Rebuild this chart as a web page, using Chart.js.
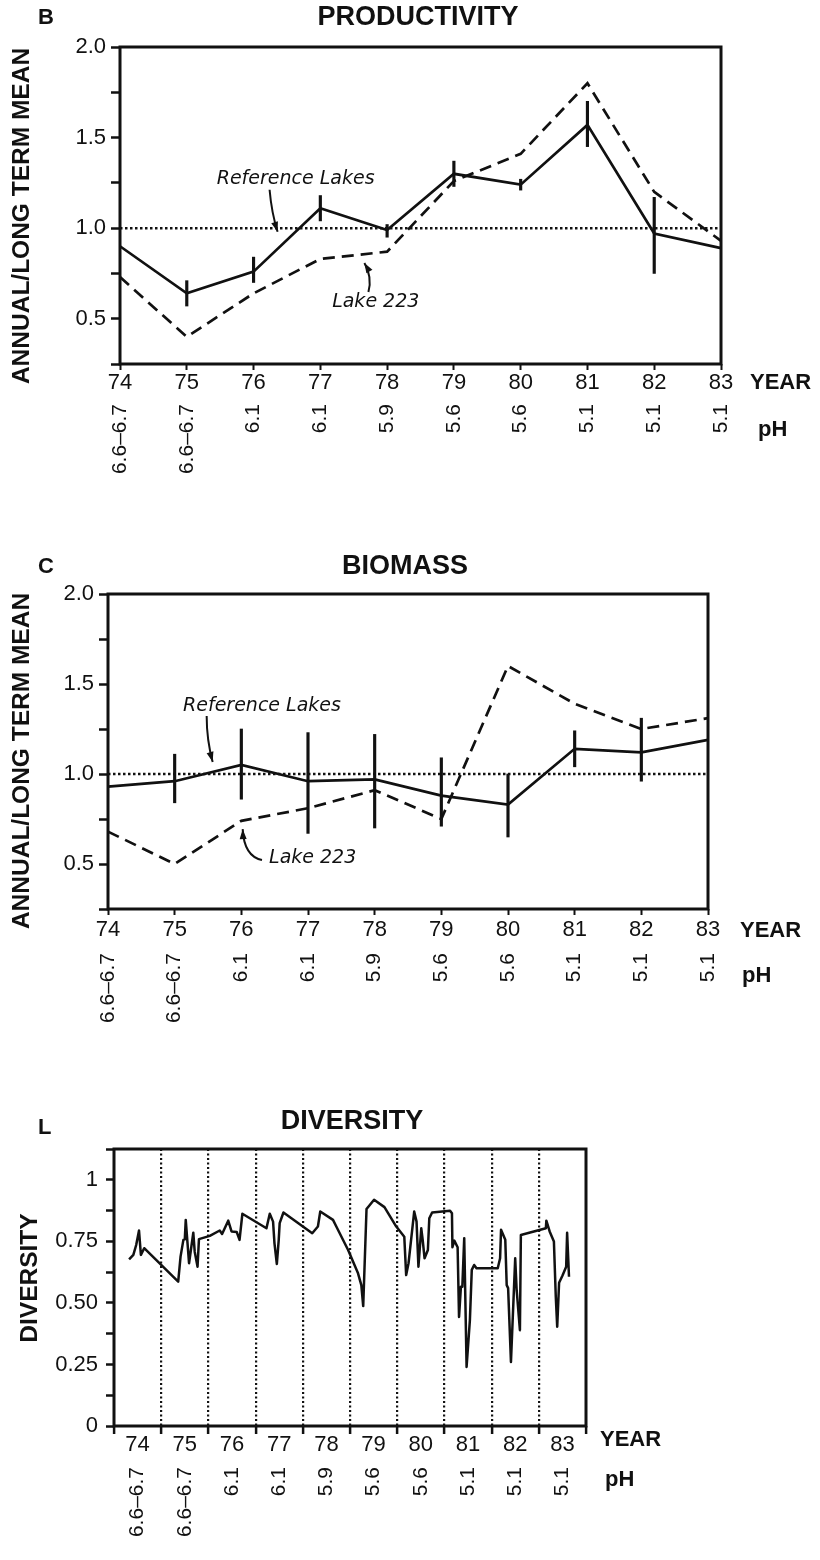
<!DOCTYPE html>
<html>
<head>
<meta charset="utf-8">
<title>Lake 223 – productivity, biomass, diversity</title>
<script src="https://cdn.jsdelivr.net/npm/chart.js@4.4.1/dist/chart.umd.min.js"></script>
<style>
  body { margin: 0; background: #fff; width: 820px; height: 1560px; position: relative; overflow: hidden; }
  canvas { position: absolute; left: 0; }
</style>
</head>
<body>
<canvas id="prodChart" width="820" height="500" style="top:0"></canvas>
<canvas id="bioChart" width="820" height="500" style="top:545px"></canvas>
<canvas id="divChart" width="820" height="475" style="top:1085px"></canvas>

<script>
// ---- data ----
const years = ['74', '75', '76', '77', '78', '79', '80', '81', '82', '83'];
const phLabels = ['6.6–6.7', '6.6–6.7', '6.1', '6.1', '5.9', '5.6', '5.6', '5.1', '5.1', '5.1'];
const longTermMean = 1.0;

// B - productivity
const prodReference = [0.90, 0.64, 0.76, 1.11, 0.99, 1.30, 1.24, 1.57, 0.97, 0.89];
const prodReferenceLow = [null, 0.57, 0.70, 1.04, 0.95, 1.23, 1.21, 1.45, 0.75, null];
const prodReferenceHigh = [null, 0.71, 0.84, 1.18, 1.02, 1.37, 1.27, 1.70, 1.17, null];
const prodLake223 = [0.73, 0.40, 0.64, 0.83, 0.87, 1.26, 1.41, 1.80, 1.20, 0.93];

// C - biomass
const bioReference = [0.93, 0.96, 1.05, 0.96, 0.97, 0.88, 0.83, 1.14, 1.12, 1.19];
const bioReferenceLow = [null, 0.84, 0.86, 0.67, 0.70, 0.71, 0.65, 1.04, 0.96, null];
const bioReferenceHigh = [null, 1.11, 1.25, 1.23, 1.22, 1.09, 1.00, 1.24, 1.31, null];
const bioLake223 = [0.68, 0.50, 0.74, 0.81, 0.91, 0.75, 1.60, 1.39, 1.25, 1.31];

// L - diversity (time as year, 74.5 = middle of 1974)
const divTime = [
  74.32, 74.41, 74.47, 74.53, 74.57, 74.64, 75.36, 75.41, 75.47, 75.50,
  75.52, 75.59, 75.68, 75.71, 75.77, 75.80, 76.03, 76.24, 76.29, 76.42,
  76.49, 76.60, 76.66, 76.72, 77.23, 77.30, 77.37, 77.40, 77.45, 77.49,
  77.51, 77.59, 78.20, 78.32, 78.37, 78.64, 78.71, 78.96, 79.17, 79.24,
  79.28, 79.35, 79.51, 79.73, 79.98, 80.15, 80.19, 80.24, 80.36, 80.41,
  80.45, 80.51, 80.54, 80.58, 80.65, 80.68, 80.74, 81.12, 81.16, 81.17,
  81.21, 81.28, 81.31, 81.35, 81.38, 81.42, 81.47, 81.54, 81.58, 81.63,
  81.68, 82.13, 82.18, 82.20, 82.29, 82.32, 82.35, 82.41, 82.50, 82.53,
  82.60, 82.62, 83.15, 83.16, 83.23, 83.32, 83.36, 83.39, 83.43, 83.50,
  83.58, 83.60, 83.64
];
const divValue = [
  0.677, 0.695, 0.735, 0.794, 0.695, 0.722, 0.586, 0.688, 0.756, 0.758,
  0.837, 0.661, 0.785, 0.708, 0.647, 0.759, 0.772, 0.794, 0.780, 0.834,
  0.790, 0.788, 0.756, 0.862, 0.803, 0.862, 0.830, 0.742, 0.658, 0.756,
  0.824, 0.867, 0.783, 0.810, 0.871, 0.837, 0.810, 0.715, 0.620, 0.572,
  0.487, 0.881, 0.919, 0.889, 0.810, 0.769, 0.613, 0.661, 0.871, 0.830,
  0.647, 0.803, 0.756, 0.681, 0.715, 0.844, 0.867, 0.874, 0.864, 0.726,
  0.753, 0.726, 0.443, 0.566, 0.566, 0.763, 0.240, 0.430, 0.634, 0.654,
  0.641, 0.641, 0.681, 0.797, 0.756, 0.572, 0.560, 0.260, 0.681, 0.555,
  0.389, 0.776, 0.803, 0.834, 0.790, 0.749, 0.525, 0.403, 0.582, 0.610,
  0.647, 0.785, 0.606
];
const divTickText = { 0: '0', 0.25: '0.25', 0.5: '0.50', 0.75: '0.75', 1: '1' };

// ---- styling ----
const black = '#111';
const sans = '"Liberation Sans", Arial, Helvetica, sans-serif';
const hand = '"DejaVu Sans", sans-serif';

// draws the frame, panel letter, titles and the hand lettered notes
const decor = {
  id: 'decor',
  afterDraw(chart, args, o) {
    const { ctx, chartArea: a, scales } = chart;
    const px = p => [scales.x.getPixelForValue(p[0]), scales.y.getPixelForValue(p[1])];
    ctx.save();
    ctx.strokeStyle = black;
    ctx.lineWidth = 3;
    ctx.strokeRect(a.left, a.top, a.right - a.left, a.bottom - a.top);

    ctx.fillStyle = black;
    ctx.textBaseline = 'middle';
    ctx.textAlign = 'left';
    ctx.font = 'bold 22px ' + sans;
    ctx.fillText(o.letter, o.letterPos[0], o.letterPos[1]);

    ctx.textAlign = 'center';
    ctx.font = 'bold 27px ' + sans;
    ctx.fillText(o.title, o.titlePos[0], o.titlePos[1]);

    ctx.save();
    ctx.translate(o.yTitlePos[0], o.yTitlePos[1]);
    ctx.rotate(-Math.PI / 2);
    ctx.font = 'bold 24.5px ' + sans;
    ctx.fillText(o.yTitle, 0, 0);
    ctx.restore();

    ctx.textAlign = 'left';
    ctx.font = 'bold 22px ' + sans;
    ctx.fillText('YEAR', o.yearPos[0], o.yearPos[1]);
    ctx.fillText('pH', o.phPos[0], o.phPos[1]);

    ctx.textAlign = 'center';
    ctx.font = 'italic 19px ' + hand;
    (o.notes || []).forEach(n => {
      const p = px(n.at);
      ctx.fillText(n.text, p[0], p[1]);
    });

    ctx.lineWidth = 2;
    (o.arrows || []).forEach(ar => {
      const f = px(ar.from), v = px(ar.via), t = px(ar.to);
      ctx.beginPath();
      ctx.moveTo(f[0], f[1]);
      ctx.quadraticCurveTo(v[0], v[1], t[0], t[1]);
      ctx.stroke();
      const ang = Math.atan2(t[1] - v[1], t[0] - v[0]);
      ctx.beginPath();
      ctx.moveTo(t[0], t[1]);
      ctx.lineTo(t[0] - 10 * Math.cos(ang) + 3.5 * Math.sin(ang), t[1] - 10 * Math.sin(ang) - 3.5 * Math.cos(ang));
      ctx.lineTo(t[0] - 10 * Math.cos(ang) - 3.5 * Math.sin(ang), t[1] - 10 * Math.sin(ang) + 3.5 * Math.cos(ang));
      ctx.closePath();
      ctx.fill();
    });
    ctx.restore();
  }
};

// panels B and C share one layout
function yearlyChart(id, reference, low, high, lake, box, decorOpts) {
  return new Chart(document.getElementById(id), {
    type: 'line',
    data: {
      labels: years,
      datasets: [
        { type: 'bar', data: low.map((lo, i) => lo === null ? null : [lo, high[i]]), backgroundColor: black, barThickness: 2.5 },
        { data: reference, borderColor: black, borderWidth: 2.7, pointRadius: 0, tension: 0 },
        { data: lake, borderColor: black, borderWidth: 2.7, borderDash: [12, 7], pointRadius: 0, tension: 0 },
        { data: years.map(() => longTermMean), borderColor: black, borderWidth: 2.5, borderDash: [2.5, 2.5], pointRadius: 0 }
      ]
    },
    plugins: [decor],
    options: {
      responsive: false,
      animation: false,
      layout: { padding: { top: box.top, right: box.right, left: 0, bottom: 0 } },
      plugins: { legend: { display: false }, tooltip: { enabled: false }, decor: decorOpts },
      scales: {
        x: {
          type: 'category', offset: false, weight: 0,
          afterFit: s => { s.height = 32; },
          grid: { drawOnChartArea: false, offset: false, tickLength: 6, tickWidth: 2, tickColor: black },
          border: { display: false },
          ticks: { color: black, font: { family: sans, size: 22 }, padding: box.yearPad, maxRotation: 0, autoSkip: false }
        },
        ph: {
          type: 'category', labels: phLabels, position: 'bottom', offset: false, weight: 1,
          afterFit: s => { s.height = 104; },
          grid: { display: false },
          border: { display: false },
          ticks: { color: black, font: { family: sans, size: 21 }, padding: box.phPad, minRotation: 90, maxRotation: 90, autoSkip: false }
        },
        y: {
          min: 0.25, max: 2.0,
          afterFit: s => { s.width = box.left; },
          grid: { drawOnChartArea: false, tickLength: 9, tickWidth: 2.5, tickColor: black },
          border: { display: false },
          ticks: {
            stepSize: 0.25, padding: 5, color: black, font: { family: sans, size: 22 },
            callback: v => (v >= 0.5 && Math.abs(v * 2 - Math.round(v * 2)) < 1e-6) ? v.toFixed(1) : ''
          }
        }
      }
    }
  });
}

yearlyChart('prodChart', prodReference, prodReferenceLow, prodReferenceHigh, prodLake223,
  { top: 47, right: 99, left: 120, yearPad: 0, phPad: 0 },
  {
    letter: 'B', letterPos: [38, 18], title: 'PRODUCTIVITY', titlePos: [418, 18],
    yTitle: 'ANNUAL/LONG TERM MEAN', yTitlePos: [22, 216], yearPos: [750, 383], phPos: [758, 430],
    notes: [{ text: 'Reference Lakes', at: [2.63, 1.273] }, { text: 'Lake 223', at: [3.83, 0.592] }],
    arrows: [
      { from: [2.24, 1.212], via: [2.27, 1.085], to: [2.36, 0.98] },
      { from: [3.72, 0.647], via: [3.78, 0.731], to: [3.66, 0.808] }
    ]
  });

yearlyChart('bioChart', bioReference, bioReferenceLow, bioReferenceHigh, bioLake223,
  { top: 49, right: 112, left: 108, yearPad: 2, phPad: 4 },
  {
    letter: 'C', letterPos: [38, 22], title: 'BIOMASS', titlePos: [405, 22],
    yTitle: 'ANNUAL/LONG TERM MEAN', yTitlePos: [22, 216], yearPos: [740, 386], phPos: [742, 431],
    notes: [{ text: 'Reference Lakes', at: [2.31, 1.378] }, { text: 'Lake 223', at: [3.07, 0.533] }],
    arrows: [
      { from: [1.48, 1.322], via: [1.48, 1.189], to: [1.57, 1.067] },
      { from: [2.31, 0.522], via: [2.04, 0.544], to: [2.02, 0.694] }
    ]
  });

// L - diversity
new Chart(document.getElementById('divChart'), {
  type: 'line',
  data: {
    datasets: [{
      data: divTime.map((t, i) => ({ x: t, y: divValue[i] })),
      borderColor: black, borderWidth: 2.5, borderJoinStyle: 'round', pointRadius: 0, tension: 0
    }]
  },
  plugins: [decor],
  options: {
    responsive: false,
    animation: false,
    layout: { padding: { top: 64, right: 234, left: 0, bottom: 0 } },
    plugins: {
      legend: { display: false }, tooltip: { enabled: false },
      decor: {
        letter: 'L', letterPos: [38, 43], title: 'DIVERSITY', titlePos: [352, 37],
        yTitle: 'DIVERSITY', yTitlePos: [30, 193], yearPos: [600, 355], phPos: [605, 395]
      }
    },
    scales: {
      x: {
        type: 'linear', min: 74, max: 84, weight: 0,
        afterFit: s => { s.height = 0; },
        ticks: { display: false, stepSize: 1 },
        grid: {
          tickLength: 8, tickWidth: 2.5, tickColor: black, tickBorderDash: [], lineWidth: 2.2,
          color: c => (c.tick && (c.tick.value === 74 || c.tick.value === 84)) ? 'rgba(0,0,0,0)' : black
        },
        border: { display: false, dash: [2, 2.5] }
      },
      yr: {
        type: 'category', labels: years, position: 'bottom', offset: true, weight: 1,
        afterFit: s => { s.height = 30; },
        grid: { display: false }, border: { display: false },
        ticks: { color: black, font: { family: sans, size: 22 }, padding: -2, maxRotation: 0, autoSkip: false }
      },
      ph: {
        type: 'category', labels: phLabels, position: 'bottom', offset: true, weight: 2,
        afterFit: s => { s.height = 104; },
        grid: { display: false }, border: { display: false },
        ticks: { color: black, font: { family: sans, size: 21 }, padding: 3, minRotation: 90, maxRotation: 90, autoSkip: false }
      },
      y: {
        min: 0, max: 1.125,
        afterFit: s => { s.width = 114; },
        grid: { drawOnChartArea: false, tickLength: 8, tickWidth: 2.5, tickColor: black },
        border: { display: false },
        ticks: {
          stepSize: 0.125, padding: 8, color: black, font: { family: sans, size: 22 },
          callback: v => divTickText[v] !== undefined ? divTickText[v] : ''
        }
      }
    }
  }
});
</script>
</body>
</html>
